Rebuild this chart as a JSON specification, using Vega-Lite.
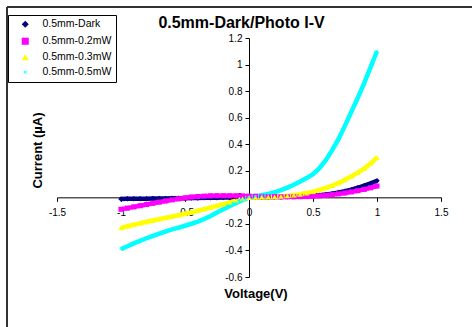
{
  "$schema": "https://vega.github.io/schema/vega-lite/v6.json",
  "width": 384,
  "height": 239,
  "autosize": {"type": "none"},
  "padding": {"left": 57, "top": 38, "right": 31, "bottom": 50},
  "background": "white",
  "config": {"view": {"stroke": null}, "font": "Liberation Sans", "axis": {"labelOverlap": false}},
  "title": {"text": "0.5mm-Dark/Photo I-V", "fontSize": 16, "font": "Liberation Sans", "fontWeight": "bold", "anchor": "middle", "frame": "group", "dx": -7.5, "offset": -25, "color": "#000"},
  "data": {"values": [
    {"s":"0.5mm-Dark","v":-1,"i":-0.012},{"s":"0.5mm-Dark","v":-0.95,"i":-0.011},{"s":"0.5mm-Dark","v":-0.9,"i":-0.011},{"s":"0.5mm-Dark","v":-0.85,"i":-0.01},{"s":"0.5mm-Dark","v":-0.8,"i":-0.01},{"s":"0.5mm-Dark","v":-0.75,"i":-0.009},{"s":"0.5mm-Dark","v":-0.7,"i":-0.009},{"s":"0.5mm-Dark","v":-0.65,"i":-0.008},{"s":"0.5mm-Dark","v":-0.6,"i":-0.007},{"s":"0.5mm-Dark","v":-0.55,"i":-0.007},{"s":"0.5mm-Dark","v":-0.5,"i":-0.006},{"s":"0.5mm-Dark","v":-0.45,"i":-0.005},{"s":"0.5mm-Dark","v":-0.4,"i":-0.005},{"s":"0.5mm-Dark","v":-0.35,"i":-0.004},{"s":"0.5mm-Dark","v":-0.3,"i":-0.003},{"s":"0.5mm-Dark","v":-0.25,"i":-0.003},{"s":"0.5mm-Dark","v":-0.2,"i":-0.002},{"s":"0.5mm-Dark","v":-0.15,"i":-0.001},{"s":"0.5mm-Dark","v":-0.1,"i":-0.001},{"s":"0.5mm-Dark","v":-0.05,"i":0},{"s":"0.5mm-Dark","v":0,"i":0},{"s":"0.5mm-Dark","v":0.05,"i":0},{"s":"0.5mm-Dark","v":0.1,"i":0.001},{"s":"0.5mm-Dark","v":0.15,"i":0.001},{"s":"0.5mm-Dark","v":0.2,"i":0.002},{"s":"0.5mm-Dark","v":0.25,"i":0.003},{"s":"0.5mm-Dark","v":0.3,"i":0.004},{"s":"0.5mm-Dark","v":0.35,"i":0.005},{"s":"0.5mm-Dark","v":0.4,"i":0.007},{"s":"0.5mm-Dark","v":0.45,"i":0.009},{"s":"0.5mm-Dark","v":0.5,"i":0.012},{"s":"0.5mm-Dark","v":0.55,"i":0.016},{"s":"0.5mm-Dark","v":0.6,"i":0.021},{"s":"0.5mm-Dark","v":0.65,"i":0.028},{"s":"0.5mm-Dark","v":0.7,"i":0.036},{"s":"0.5mm-Dark","v":0.75,"i":0.046},{"s":"0.5mm-Dark","v":0.8,"i":0.058},{"s":"0.5mm-Dark","v":0.85,"i":0.072},{"s":"0.5mm-Dark","v":0.9,"i":0.088},{"s":"0.5mm-Dark","v":0.95,"i":0.105},{"s":"0.5mm-Dark","v":1,"i":0.125},
    {"s":"0.5mm-0.2mW","v":-1,"i":-0.09},{"s":"0.5mm-0.2mW","v":-0.95,"i":-0.081},{"s":"0.5mm-0.2mW","v":-0.9,"i":-0.072},{"s":"0.5mm-0.2mW","v":-0.85,"i":-0.063},{"s":"0.5mm-0.2mW","v":-0.8,"i":-0.054},{"s":"0.5mm-0.2mW","v":-0.75,"i":-0.045},{"s":"0.5mm-0.2mW","v":-0.7,"i":-0.036},{"s":"0.5mm-0.2mW","v":-0.65,"i":-0.027},{"s":"0.5mm-0.2mW","v":-0.6,"i":-0.019},{"s":"0.5mm-0.2mW","v":-0.55,"i":-0.011},{"s":"0.5mm-0.2mW","v":-0.5,"i":-0.004},{"s":"0.5mm-0.2mW","v":-0.45,"i":0.002},{"s":"0.5mm-0.2mW","v":-0.4,"i":0.006},{"s":"0.5mm-0.2mW","v":-0.35,"i":0.009},{"s":"0.5mm-0.2mW","v":-0.3,"i":0.011},{"s":"0.5mm-0.2mW","v":-0.25,"i":0.012},{"s":"0.5mm-0.2mW","v":-0.2,"i":0.012},{"s":"0.5mm-0.2mW","v":-0.15,"i":0.012},{"s":"0.5mm-0.2mW","v":-0.1,"i":0.011},{"s":"0.5mm-0.2mW","v":-0.05,"i":0.01},{"s":"0.5mm-0.2mW","v":0,"i":0.009},{"s":"0.5mm-0.2mW","v":0.05,"i":0.008},{"s":"0.5mm-0.2mW","v":0.1,"i":0.007},{"s":"0.5mm-0.2mW","v":0.15,"i":0.006},{"s":"0.5mm-0.2mW","v":0.2,"i":0.005},{"s":"0.5mm-0.2mW","v":0.25,"i":0.004},{"s":"0.5mm-0.2mW","v":0.3,"i":0.004},{"s":"0.5mm-0.2mW","v":0.35,"i":0.004},{"s":"0.5mm-0.2mW","v":0.4,"i":0.005},{"s":"0.5mm-0.2mW","v":0.45,"i":0.006},{"s":"0.5mm-0.2mW","v":0.5,"i":0.008},{"s":"0.5mm-0.2mW","v":0.55,"i":0.011},{"s":"0.5mm-0.2mW","v":0.6,"i":0.015},{"s":"0.5mm-0.2mW","v":0.65,"i":0.02},{"s":"0.5mm-0.2mW","v":0.7,"i":0.026},{"s":"0.5mm-0.2mW","v":0.75,"i":0.033},{"s":"0.5mm-0.2mW","v":0.8,"i":0.041},{"s":"0.5mm-0.2mW","v":0.85,"i":0.05},{"s":"0.5mm-0.2mW","v":0.9,"i":0.06},{"s":"0.5mm-0.2mW","v":0.95,"i":0.072},{"s":"0.5mm-0.2mW","v":1,"i":0.085},
    {"s":"0.5mm-0.3mW","v":-1,"i":-0.23},{"s":"0.5mm-0.3mW","v":-0.95,"i":-0.218},{"s":"0.5mm-0.3mW","v":-0.9,"i":-0.206},{"s":"0.5mm-0.3mW","v":-0.85,"i":-0.195},{"s":"0.5mm-0.3mW","v":-0.8,"i":-0.184},{"s":"0.5mm-0.3mW","v":-0.75,"i":-0.174},{"s":"0.5mm-0.3mW","v":-0.7,"i":-0.164},{"s":"0.5mm-0.3mW","v":-0.65,"i":-0.154},{"s":"0.5mm-0.3mW","v":-0.6,"i":-0.144},{"s":"0.5mm-0.3mW","v":-0.55,"i":-0.134},{"s":"0.5mm-0.3mW","v":-0.5,"i":-0.124},{"s":"0.5mm-0.3mW","v":-0.45,"i":-0.113},{"s":"0.5mm-0.3mW","v":-0.4,"i":-0.101},{"s":"0.5mm-0.3mW","v":-0.35,"i":-0.089},{"s":"0.5mm-0.3mW","v":-0.3,"i":-0.077},{"s":"0.5mm-0.3mW","v":-0.25,"i":-0.064},{"s":"0.5mm-0.3mW","v":-0.2,"i":-0.051},{"s":"0.5mm-0.3mW","v":-0.15,"i":-0.038},{"s":"0.5mm-0.3mW","v":-0.1,"i":-0.025},{"s":"0.5mm-0.3mW","v":-0.05,"i":-0.012},{"s":"0.5mm-0.3mW","v":0,"i":-0.002},{"s":"0.5mm-0.3mW","v":0.05,"i":0},{"s":"0.5mm-0.3mW","v":0.1,"i":0.001},{"s":"0.5mm-0.3mW","v":0.15,"i":0.002},{"s":"0.5mm-0.3mW","v":0.2,"i":0.004},{"s":"0.5mm-0.3mW","v":0.25,"i":0.007},{"s":"0.5mm-0.3mW","v":0.3,"i":0.011},{"s":"0.5mm-0.3mW","v":0.35,"i":0.016},{"s":"0.5mm-0.3mW","v":0.4,"i":0.023},{"s":"0.5mm-0.3mW","v":0.45,"i":0.032},{"s":"0.5mm-0.3mW","v":0.5,"i":0.043},{"s":"0.5mm-0.3mW","v":0.55,"i":0.056},{"s":"0.5mm-0.3mW","v":0.6,"i":0.071},{"s":"0.5mm-0.3mW","v":0.65,"i":0.089},{"s":"0.5mm-0.3mW","v":0.7,"i":0.109},{"s":"0.5mm-0.3mW","v":0.75,"i":0.132},{"s":"0.5mm-0.3mW","v":0.8,"i":0.158},{"s":"0.5mm-0.3mW","v":0.85,"i":0.186},{"s":"0.5mm-0.3mW","v":0.9,"i":0.217},{"s":"0.5mm-0.3mW","v":0.95,"i":0.255},{"s":"0.5mm-0.3mW","v":1,"i":0.3},
    {"s":"0.5mm-0.5mW","v":-1,"i":-0.39},{"s":"0.5mm-0.5mW","v":-0.95,"i":-0.368},{"s":"0.5mm-0.5mW","v":-0.9,"i":-0.347},{"s":"0.5mm-0.5mW","v":-0.85,"i":-0.327},{"s":"0.5mm-0.5mW","v":-0.8,"i":-0.308},{"s":"0.5mm-0.5mW","v":-0.75,"i":-0.29},{"s":"0.5mm-0.5mW","v":-0.7,"i":-0.273},{"s":"0.5mm-0.5mW","v":-0.65,"i":-0.257},{"s":"0.5mm-0.5mW","v":-0.6,"i":-0.242},{"s":"0.5mm-0.5mW","v":-0.55,"i":-0.228},{"s":"0.5mm-0.5mW","v":-0.5,"i":-0.214},{"s":"0.5mm-0.5mW","v":-0.45,"i":-0.199},{"s":"0.5mm-0.5mW","v":-0.4,"i":-0.183},{"s":"0.5mm-0.5mW","v":-0.35,"i":-0.163},{"s":"0.5mm-0.5mW","v":-0.3,"i":-0.14},{"s":"0.5mm-0.5mW","v":-0.25,"i":-0.115},{"s":"0.5mm-0.5mW","v":-0.2,"i":-0.09},{"s":"0.5mm-0.5mW","v":-0.15,"i":-0.066},{"s":"0.5mm-0.5mW","v":-0.1,"i":-0.043},{"s":"0.5mm-0.5mW","v":-0.05,"i":-0.021},{"s":"0.5mm-0.5mW","v":0,"i":0},{"s":"0.5mm-0.5mW","v":0.05,"i":0.008},{"s":"0.5mm-0.5mW","v":0.1,"i":0.016},{"s":"0.5mm-0.5mW","v":0.15,"i":0.026},{"s":"0.5mm-0.5mW","v":0.2,"i":0.038},{"s":"0.5mm-0.5mW","v":0.25,"i":0.054},{"s":"0.5mm-0.5mW","v":0.3,"i":0.073},{"s":"0.5mm-0.5mW","v":0.35,"i":0.095},{"s":"0.5mm-0.5mW","v":0.4,"i":0.12},{"s":"0.5mm-0.5mW","v":0.45,"i":0.145},{"s":"0.5mm-0.5mW","v":0.5,"i":0.175},{"s":"0.5mm-0.5mW","v":0.55,"i":0.22},{"s":"0.5mm-0.5mW","v":0.6,"i":0.28},{"s":"0.5mm-0.5mW","v":0.65,"i":0.355},{"s":"0.5mm-0.5mW","v":0.7,"i":0.44},{"s":"0.5mm-0.5mW","v":0.75,"i":0.54},{"s":"0.5mm-0.5mW","v":0.8,"i":0.645},{"s":"0.5mm-0.5mW","v":0.85,"i":0.75},{"s":"0.5mm-0.5mW","v":0.9,"i":0.86},{"s":"0.5mm-0.5mW","v":0.95,"i":0.98},{"s":"0.5mm-0.5mW","v":1,"i":1.1}
  ]},
  "layer": [
    {
      "mark": {"type": "rule", "color": "#333", "strokeWidth": 1.5},
      "encoding": {
        "x": {"datum": -1.89, "type": "quantitative", "scale": {"domain": [-1.5, 1.5], "nice": false, "zero": false},
          "axis": {"orient": "bottom", "offset": -79.67, "values": [-1.5, -1, -0.5, 0, 0.5, 1, 1.5], "tickCount": 12, "grid": false,
            "domainColor": "#000", "tickColor": "#000", "tickSize": 4, "labelFontSize": 10, "labelColor": "#000",
            "labelPadding": 6, "labelFlush": false, "labelOverlap": false, "format": "~g", "labelExpr": "replace(datum.label, '\u2212', '-')",
            "title": "Voltage(V)", "titleFontSize": 13, "titleFontWeight": "bold", "titleColor": "#000",
            "titleX": 198.5, "titleY": 96, "titleBaseline": "middle", "titleAlign": "center"}},
        "y": {"datum": 1.433, "type": "quantitative", "scale": {"domain": [-0.6, 1.2], "nice": false, "zero": false},
          "axis": {"orient": "left", "offset": -192, "values": [-0.6, -0.4, -0.2, 0, 0.2, 0.4, 0.6, 0.8, 1, 1.2], "tickCount": 12, "grid": false,
            "domainColor": "#000", "tickColor": "#000", "tickSize": 4, "labelFontSize": 10, "labelColor": "#000",
            "labelPadding": 3, "labelFlush": false, "labelOverlap": false, "format": "~g", "labelExpr": "replace(datum.label, '\u2212', '-')",
            "title": "Current (µA)", "titleFontSize": 13, "titleFontWeight": "bold", "titleColor": "#000",
            "titleX": -212, "titleY": 112, "titleBaseline": "middle", "titleAlign": "center", "titleAngle": 270}},
        "y2": {"datum": -1.0}
      }
    },
    {
      "mark": {"type": "rule", "color": "#333", "strokeWidth": 1.5},
      "encoding": {
        "x": {"datum": -1.89, "type": "quantitative"},
        "x2": {"datum": 1.9},
        "y": {"datum": 1.433, "type": "quantitative"}
      }
    },
    {
      "transform": [{"filter": {"field": "s", "equal": "0.5mm-Dark"}}],
      "mark": {"type": "line", "strokeWidth": 4.5, "color": "#000080"},
      "encoding": {"x": {"field": "v", "type": "quantitative"}, "y": {"field": "i", "type": "quantitative"}}
    },
    {
      "transform": [{"filter": {"field": "s", "equal": "0.5mm-0.2mW"}}],
      "mark": {"type": "line", "strokeWidth": 4.5, "color": "#FF00FF"},
      "encoding": {"x": {"field": "v", "type": "quantitative"}, "y": {"field": "i", "type": "quantitative"}}
    },
    {
      "transform": [{"filter": {"field": "s", "equal": "0.5mm-0.3mW"}}],
      "mark": {"type": "line", "strokeWidth": 4.5, "color": "#FFFF00"},
      "encoding": {"x": {"field": "v", "type": "quantitative"}, "y": {"field": "i", "type": "quantitative"}}
    },
    {
      "transform": [{"filter": {"field": "s", "equal": "0.5mm-0.5mW"}}],
      "mark": {"type": "line", "strokeWidth": 4.5, "color": "#00FFFF"},
      "encoding": {"x": {"field": "v", "type": "quantitative"}, "y": {"field": "i", "type": "quantitative"}}
    },
    {
      "transform": [{"filter": {"field": "s", "equal": "0.5mm-Dark"}}],
      "mark": {"type": "point", "filled": true, "size": 30, "shape": "diamond", "color": "#000080", "opacity": 1},
      "encoding": {"x": {"field": "v", "type": "quantitative"}, "y": {"field": "i", "type": "quantitative"}}
    },
    {
      "transform": [{"filter": {"field": "s", "equal": "0.5mm-0.2mW"}}],
      "mark": {"type": "point", "filled": true, "size": 26, "shape": "square", "color": "#FF00FF", "opacity": 1},
      "encoding": {"x": {"field": "v", "type": "quantitative"}, "y": {"field": "i", "type": "quantitative"}}
    },
    {
      "transform": [{"filter": {"field": "s", "equal": "0.5mm-0.3mW"}}],
      "mark": {"type": "point", "filled": true, "size": 30, "shape": "triangle-up", "color": "#FFFF00", "opacity": 1},
      "encoding": {"x": {"field": "v", "type": "quantitative"}, "y": {"field": "i", "type": "quantitative"}}
    },
    {
      "transform": [{"filter": {"field": "s", "equal": "0.5mm-0.5mW"}}],
      "mark": {"type": "point", "filled": true, "size": 36, "shape": "M-0.5,-0.35L-0.35,-0.5L0,-0.15L0.35,-0.5L0.5,-0.35L0.15,0L0.5,0.35L0.35,0.5L0,0.15L-0.35,0.5L-0.5,0.35L-0.15,0Z", "color": "#00FFFF", "opacity": 1},
      "encoding": {"x": {"field": "v", "type": "quantitative"}, "y": {"field": "i", "type": "quantitative"}}
    },
    {
      "transform": [{"filter": "false"}],
      "mark": {"type": "point", "filled": true, "opacity": 1},
      "encoding": {
        "x": {"field": "v", "type": "quantitative"},
        "y": {"field": "i", "type": "quantitative"},
        "color": {"field": "s", "type": "nominal",
          "scale": {"domain": ["0.5mm-Dark", "0.5mm-0.2mW", "0.5mm-0.3mW", "0.5mm-0.5mW"], "range": ["#000080", "#FF00FF", "#FFFF00", "#00FFFF"]},
          "legend": {"orient": "none", "legendX": -49, "legendY": -23, "title": null, "padding": 4,
            "strokeColor": "#000", "fillColor": "#fff", "symbolSize": 50, "symbolOffset": 8, "labelOffset": 12,
            "labelFontSize": 10.5, "labelFont": "Liberation Sans", "labelColor": "#000", "rowPadding": 3, "cornerRadius": 0, "symbolOpacity": 1}},
        "shape": {"field": "s", "type": "nominal",
          "scale": {"domain": ["0.5mm-Dark", "0.5mm-0.2mW", "0.5mm-0.3mW", "0.5mm-0.5mW"], "range": ["diamond", "square", "triangle-up", "M-0.5,-0.35L-0.35,-0.5L0,-0.15L0.35,-0.5L0.5,-0.35L0.15,0L0.5,0.35L0.35,0.5L0,0.15L-0.35,0.5L-0.5,0.35L-0.15,0Z"]},
          "legend": {"orient": "none", "legendX": -49, "legendY": -23, "title": null, "padding": 4,
            "strokeColor": "#000", "fillColor": "#fff", "symbolSize": 50, "symbolOffset": 8, "labelOffset": 12,
            "labelFontSize": 10.5, "labelFont": "Liberation Sans", "labelColor": "#000", "rowPadding": 3, "cornerRadius": 0, "symbolOpacity": 1}}
      }
    }
  ]
}
